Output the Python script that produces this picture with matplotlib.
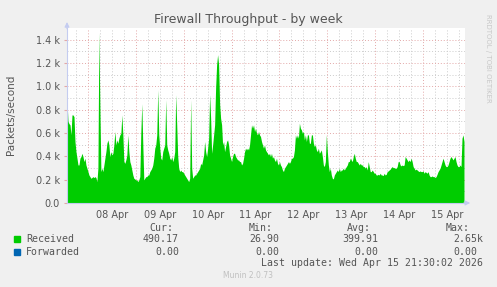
import matplotlib
matplotlib.use("Agg")
import matplotlib.pyplot as plt
import pandas as pd

# Received packets/second, one sample per 30 minutes, starting Apr 07 13:30
received = [
    880, 700, 680, 670, 585, 755, 755, 740, 527, 440, 384, 326, 326, 384, 398, 426, 398, 355, 384, 326,
    298, 269, 240, 226, 212, 218, 226, 218, 226, 218, 183, 300, 1460, 800, 269, 298, 269, 326, 384, 440,
    512, 541, 498, 398, 440, 412, 426, 498, 613, 498, 541, 512, 555, 584, 598, 755, 584, 355, 340, 369,
    412, 584, 440, 355, 326, 283, 240, 212, 206, 198, 198, 183, 198, 226, 600, 850, 500, 198, 212, 226,
    226, 240, 240, 269, 283, 298, 326, 384, 470, 498, 584, 970, 584, 470, 384, 369, 440, 470, 498, 885,
    498, 455, 426, 384, 369, 398, 355, 384, 440, 928, 670, 400, 298, 269, 283, 269, 269, 255, 240, 226,
    212, 198, 183, 212, 885, 300, 212, 226, 240, 240, 255, 269, 283, 298, 340, 326, 369, 412, 527, 440,
    398, 470, 555, 928, 727, 426, 498, 584, 670, 985, 1185, 1271, 1185, 850, 727, 670, 498, 527, 440, 484,
    527, 541, 498, 412, 384, 355, 398, 426, 426, 398, 384, 369, 369, 355, 355, 326, 340, 384, 440, 470,
    455, 470, 455, 498, 584, 670, 641, 670, 613, 641, 598, 584, 613, 584, 570, 527, 498, 470, 498, 455,
    440, 426, 412, 426, 398, 426, 384, 398, 369, 355, 384, 340, 326, 355, 326, 312, 283, 269, 298, 312,
    326, 340, 355, 340, 355, 384, 384, 398, 455, 584, 555, 584, 555, 684, 641, 627, 598, 613, 541, 584,
    527, 584, 584, 512, 512, 584, 584, 512, 484, 498, 455, 440, 470, 426, 440, 455, 398, 326, 312, 355,
    584, 440, 326, 269, 298, 240, 212, 206, 240, 255, 269, 283, 269, 298, 269, 283, 283, 298, 283, 298,
    312, 326, 355, 355, 384, 369, 355, 398, 426, 384, 355, 355, 340, 326, 340, 326, 326, 312, 312, 298,
    312, 283, 355, 312, 269, 269, 283, 269, 255, 255, 240, 240, 246, 240, 255, 240, 240, 235, 255, 240,
    246, 269, 275, 283, 290, 303, 312, 303, 303, 298, 298, 312, 355, 355, 326, 318, 326, 320, 326, 398,
    384, 369, 355, 369, 355, 384, 355, 312, 298, 283, 290, 283, 275, 269, 275, 269, 269, 275, 255, 269,
    262, 255, 269, 240, 226, 226, 232, 226, 226, 218, 226, 246, 269, 283, 298, 326, 355, 384, 355, 326,
    312, 312, 326, 355, 384, 398, 384, 369, 384, 398, 355, 326, 312, 312, 326, 312, 555, 584, 527,
]

day_labels = ["08 Apr", "09 Apr", "10 Apr", "11 Apr", "12 Apr", "13 Apr", "14 Apr", "15 Apr"]
y_ticks = [0, 200, 400, 600, 800, 1000, 1200, 1400]
y_labels = ["0.0", "0.2 k", "0.4 k", "0.6 k", "0.8 k", "1.0 k", "1.2 k", "1.4 k"]

legend_names = ["Received", "Forwarded"]
legend_colors = ["#00CC00", "#0066B3"]
cur_vals = ["490.17", "0.00"]
min_vals = ["26.90", "0.00"]
avg_vals = ["399.91", "0.00"]
max_vals = ["2.65k", "0.00"]

times = pd.date_range("2026-04-07 13:30", periods=len(received), freq="30min")
t_start = times[0]
t_end = times[-1] + pd.Timedelta("30min")

W, H = 497, 287
fig = plt.figure(figsize=(W / 100, H / 100), dpi=100, facecolor="#F0F0F0")
ax = fig.add_axes([67 / W, 1 - 203 / H, 398 / W, 175 / H])
ax.set_facecolor("white")

mono = "DejaVu Sans Mono"
txt = "#555555"

# grid: minor every 6 hours / 100, major at midnight / 200
for t in pd.date_range("2026-04-07 18:00", t_end, freq="6h"):
    if t.hour == 0:
        ax.axvline(t, color="#E3A8A8", lw=0.7, ls=(0, (1, 2)), zorder=1)
    else:
        ax.axvline(t, color="#CCCCCC", lw=0.7, ls=(0, (1, 2)), zorder=1)
for v in range(100, 1500, 100):
    if v % 200 == 0:
        ax.axhline(v, color="#E3A8A8", lw=0.7, ls=(0, (1, 2)), zorder=1)
    else:
        ax.axhline(v, color="#CCCCCC", lw=0.7, ls=(0, (1, 2)), zorder=1)

ax.fill_between(times, received, 0, color=legend_colors[0], lw=0, zorder=2)

ax.set_xlim(t_start, t_end)
ax.set_ylim(0, 1500)

noons = pd.date_range("2026-04-08 12:00", periods=len(day_labels), freq="1D")
ax.set_xticks(noons)
ax.set_xticklabels(day_labels, fontsize=7, color=txt)
ax.tick_params(axis="x", length=0, pad=5)
ax.set_yticks(y_ticks)
ax.set_yticklabels(y_labels, fontsize=7, color=txt)
ax.tick_params(axis="y", length=2, color="#E3A8A8", pad=3)

for s in ["top", "right"]:
    ax.spines[s].set_visible(False)
for s in ["left", "bottom"]:
    ax.spines[s].set_color("#C4CCF0")
    ax.spines[s].set_linewidth(0.8)

# axis arrows
ax.annotate("", xy=(0, 1.05), xytext=(0, 0.98), xycoords="axes fraction",
            arrowprops=dict(arrowstyle="-|>", color="#C4CCF0", lw=0.8, mutation_scale=7),
            annotation_clip=False)
ax.annotate("", xy=(1.02, 0), xytext=(0.99, 0), xycoords="axes fraction",
            arrowprops=dict(arrowstyle="-|>", color="#C4CCF0", lw=0.8, mutation_scale=7),
            annotation_clip=False)

fig.text(248 / W, 1 - 19 / H, "Firewall Throughput - by week", ha="center", va="center",
         fontsize=9, color="#555555")
fig.text(11 / W, 1 - 115 / H, "Packets/second", rotation=90, ha="center", va="center",
         fontsize=7.5, color=txt)
fig.text(488 / W, 1 - 58 / H, "RRDTOOL / TOBI OETIKER", rotation=270, ha="center", va="center",
         fontsize=5, color="#C8C8C8")

# legend block
fs = 7.1
row_y = [239, 252]
fig.text(173 / W, 1 - 228 / H, "Cur:", ha="right", va="center", family=mono, fontsize=fs, color=txt)
fig.text(273 / W, 1 - 228 / H, "Min:", ha="right", va="center", family=mono, fontsize=fs, color=txt)
fig.text(371 / W, 1 - 228 / H, "Avg:", ha="right", va="center", family=mono, fontsize=fs, color=txt)
fig.text(470 / W, 1 - 228 / H, "Max:", ha="right", va="center", family=mono, fontsize=fs, color=txt)
for i, name in enumerate(legend_names):
    y = 1 - row_y[i] / H
    fig.patches.append(plt.Rectangle((14 / W, y - 2.8 / H), 6 / W, 6 / H, transform=fig.transFigure,
                                     color=legend_colors[i], figure=fig))
    fig.text(26 / W, y, name, ha="left", va="center", family=mono, fontsize=fs, color=txt)
    fig.text(179 / W, y, cur_vals[i], ha="right", va="center", family=mono, fontsize=fs, color=txt)
    fig.text(279 / W, y, min_vals[i], ha="right", va="center", family=mono, fontsize=fs, color=txt)
    fig.text(378 / W, y, avg_vals[i], ha="right", va="center", family=mono, fontsize=fs, color=txt)
    mx = 483 if max_vals[i].endswith("k") else 477
    fig.text(mx / W, y, max_vals[i], ha="right", va="center", family=mono, fontsize=fs, color=txt)

fig.text(483 / W, 1 - 263.5 / H, "Last update: Wed Apr 15 21:30:02 2026", ha="right", va="center",
         family=mono, fontsize=fs, color=txt)
fig.text(248 / W, 1 - 276 / H, "Munin 2.0.73", ha="center", va="center", fontsize=5.5, color="#C0C0C0")

fig.savefig("out.png", dpi=100, facecolor=fig.get_facecolor())
